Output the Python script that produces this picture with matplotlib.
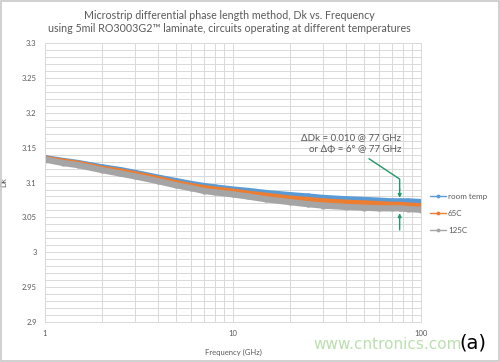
import matplotlib
matplotlib.use("Agg")
import matplotlib.pyplot as plt
from matplotlib.patches import Rectangle
from matplotlib.ticker import FixedLocator, NullFormatter, LogLocator

plt.rcParams["font.family"] = ["Lato", "DejaVu Sans"]

# ---------------------------------------------------------------------------
# Data
# ---------------------------------------------------------------------------
freq = [1, 1.25, 1.5, 2, 2.5, 3, 4, 5, 6, 7, 8, 10, 12, 15, 20, 25, 30,
        40, 50, 60, 70, 77, 85, 100]
dk_room = [3.135, 3.131, 3.128, 3.122, 3.118, 3.114, 3.107, 3.102, 3.098,
           3.095, 3.093, 3.090, 3.088, 3.085, 3.082, 3.080, 3.078, 3.076,
           3.075, 3.074, 3.073, 3.073, 3.073, 3.072]
dk_65 = [3.134, 3.130, 3.127, 3.120, 3.116, 3.112, 3.105, 3.099, 3.095,
         3.092, 3.090, 3.087, 3.084, 3.081, 3.077, 3.075, 3.073, 3.071,
         3.070, 3.069, 3.068, 3.068, 3.067, 3.066]
dk_125 = [3.133, 3.128, 3.125, 3.118, 3.113, 3.109, 3.102, 3.096, 3.092,
          3.088, 3.086, 3.083, 3.080, 3.076, 3.072, 3.069, 3.067, 3.065,
          3.064, 3.063, 3.063, 3.063, 3.062, 3.061]
series_labels = ["room temp", "65C", "125C"]
series_colors = ["#5b9bd5", "#ed7d31", "#a5a5a5"]
y_ticks = [2.9, 2.95, 3, 3.05, 3.1, 3.15, 3.2, 3.25, 3.3]
y_tick_labels = ["2.9", "2.95", "3", "3.05", "3.1", "3.15", "3.2", "3.25", "3.3"]
marker_freq = 77

# ---------------------------------------------------------------------------
# Figure
# ---------------------------------------------------------------------------
fig = plt.figure(figsize=(5, 3.62), dpi=100)
fig.patches.append(Rectangle((0.002, 0.002), 0.996, 0.996, transform=fig.transFigure,
                             fill=False, edgecolor="#c8c8c8", lw=1.2))
ax = fig.add_axes([0.09, 0.1105, 0.752, 0.7705])

for ys, lab, col in zip([dk_room, dk_65, dk_125], series_labels, series_colors):
    ax.plot(freq, ys, color=col, lw=4.5, marker="o", ms=3.5,
            solid_capstyle="round", label=lab)

ax.set_xscale("log")
ax.set_xlim(1, 100)
ax.set_ylim(2.9, 3.3)
ax.xaxis.set_major_locator(FixedLocator([1, 10, 100]))
ax.xaxis.set_minor_locator(LogLocator(base=10, subs=range(2, 10)))
ax.xaxis.set_minor_formatter(NullFormatter())
ax.set_xticks([1, 10, 100])
ax.set_xticklabels(["1", "10", "100"])
ax.set_yticks(y_ticks)
ax.set_yticklabels(y_tick_labels)
ax.yaxis.set_minor_locator(FixedLocator([2.9 + 0.01 * i for i in range(41)]))
ax.tick_params(which="both", length=0, labelsize=5.5, labelcolor="#595959", pad=6)
ax.grid(which="both", color="#d9d9d9", lw=0.7)
ax.set_axisbelow(True)
for s in ax.spines.values():
    s.set_color("#d9d9d9")
    s.set_linewidth(0.7)

ax.set_xlabel("Frequency (GHz)", fontsize=5.5, color="#595959", labelpad=8)
ax.set_ylabel("Dk", fontsize=5.5, color="#595959", labelpad=10)

fig.text(0.458, 0.958, "Microstrip differential phase length method, Dk vs. Frequency",
         ha="center", va="center", fontsize=7.7, color="#595959")
fig.text(0.458, 0.921, "using 5mil RO3003G2\u2122 laminate, circuits operating at different temperatures",
         ha="center", va="center", fontsize=7.7, color="#595959")

# Delta annotation
fig.text(0.802, 0.619, "\u0394Dk = 0.010 @ 77 GHz", ha="right", va="center",
         fontsize=7, color="#595959")
fig.text(0.802, 0.588, "or \u0394\u03a6 = 6\u00b0 @ 77 GHz", ha="right", va="center",
         fontsize=7, color="#595959")
green = "#1e9a6a"
ax.plot([53, marker_freq, marker_freq], [3.134, 3.105, 3.090],
        color=green, lw=1.0)
ax.annotate("", xy=(marker_freq, 3.078), xytext=(marker_freq, 3.091),
            arrowprops=dict(arrowstyle="-|>", color=green, lw=1.0,
                            mutation_scale=5, shrinkA=0, shrinkB=0), zorder=5)
ax.annotate("", xy=(marker_freq, 3.056), xytext=(marker_freq, 3.032),
            arrowprops=dict(arrowstyle="-|>", color=green, lw=1.0,
                            mutation_scale=5, shrinkA=0, shrinkB=0), zorder=5)

leg = ax.legend(loc="center left", bbox_to_anchor=(1.005, 0.39), frameon=False,
                fontsize=5.8, labelcolor="#595959", handlelength=2.0,
                handletextpad=0.2, labelspacing=1.25, markerscale=0.5)
for ln in leg.get_lines():
    ln.set_linewidth(1.0)

fig.text(0.775, 0.048, "www.cntronics.com", ha="center", va="center",
         fontsize=11, color="#a9d89a", alpha=0.8, family=["DejaVu Sans"])
fig.text(0.945, 0.052, "(a)", ha="center", va="center", fontsize=14, color="black",
         family=["DejaVu Sans"])

fig.savefig("out.png", dpi=100)
